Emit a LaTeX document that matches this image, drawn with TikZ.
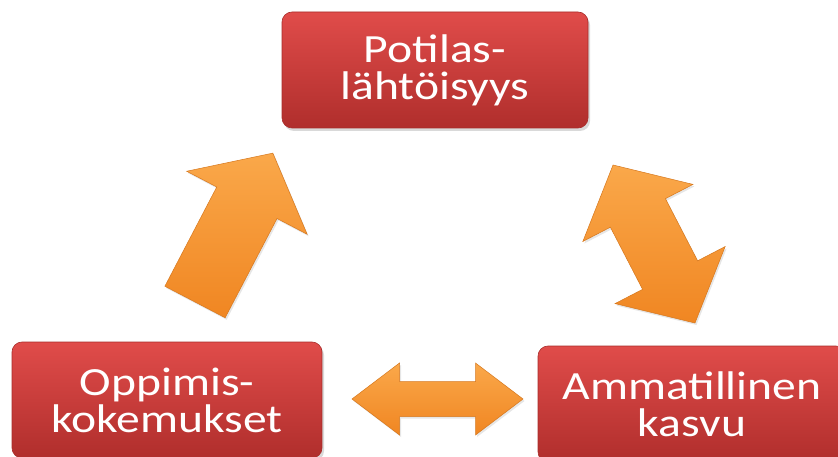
\documentclass[tikz,border=0pt]{standalone}
\usepackage{fontspec}
\setmainfont{Carlito}
\newfontfamily\boxfont[FakeStretch=1.19]{Carlito}
\usetikzlibrary{shadows}
\definecolor{boxtop}{RGB}{224,76,74}
\definecolor{boxbot}{RGB}{176,46,44}
\definecolor{boxedge}{RGB}{168,44,42}
\definecolor{arrtop}{RGB}{250,168,74}
\definecolor{arrbot}{RGB}{240,134,34}
\definecolor{arredge}{RGB}{214,120,30}
\begin{document}
\begin{tikzpicture}[x=1pt,y=1pt,
  box/.style={rounded corners=10pt, top color=boxtop, bottom color=boxbot,
    draw=boxedge, line width=0.6pt, text=white, align=center,
    font=\boxfont\fontsize{40}{37}\selectfont,
    minimum width=306pt, minimum height=116pt, inner sep=0pt,
    drop shadow={opacity=0.3, shadow xshift=2pt, shadow yshift=-3pt}},
  blockarrow/.style={top color=arrtop, bottom color=arrbot, draw=arredge,
    line width=0.5pt, line join=miter,
    drop shadow={opacity=0.2, shadow xshift=1.5pt, shadow yshift=-2pt}}]
\useasboundingbox (0,0) rectangle (838,456);
\node[box] (pot) at (435,386) {Potilas-\\lähtöisyys};
\node[box, minimum width=310pt] (opp) at (167,56) {Oppimis-\\kokemukset};
\node[box, minimum width=308pt] (amm) at (692,52) {Ammatillinen\\kasvu};
% arrow from Oppimiskokemukset up to Potilaslahtoisyys
\begin{scope}[shift={(195,154)}, rotate=62.4]
  \path[blockarrow] (0,-34) -- (112,-34) -- (112,-68) -- (168,0)
    -- (112,68) -- (112,34) -- (0,34) -- cycle;
\end{scope}
% double arrow between Potilaslahtoisyys and Ammatillinen kasvu
\begin{scope}[shift={(654,212)}, rotate=117.4]
  \path[blockarrow] (-89,0) -- (-35,-62) -- (-35,-31) -- (35,-31) -- (35,-62)
    -- (89,0) -- (35,62) -- (35,31) -- (-35,31) -- (-35,62) -- cycle;
\end{scope}
% double arrow between Oppimiskokemukset and Ammatillinen kasvu
\begin{scope}[shift={(437.5,57)}]
  \path[blockarrow] (-85.5,0) -- (-38,36) -- (-38,17.5) -- (38,17.5) -- (38,36)
    -- (85.5,0) -- (38,-36) -- (38,-17.5) -- (-38,-17.5) -- (-38,-36) -- cycle;
\end{scope}
\end{tikzpicture}
\end{document}
